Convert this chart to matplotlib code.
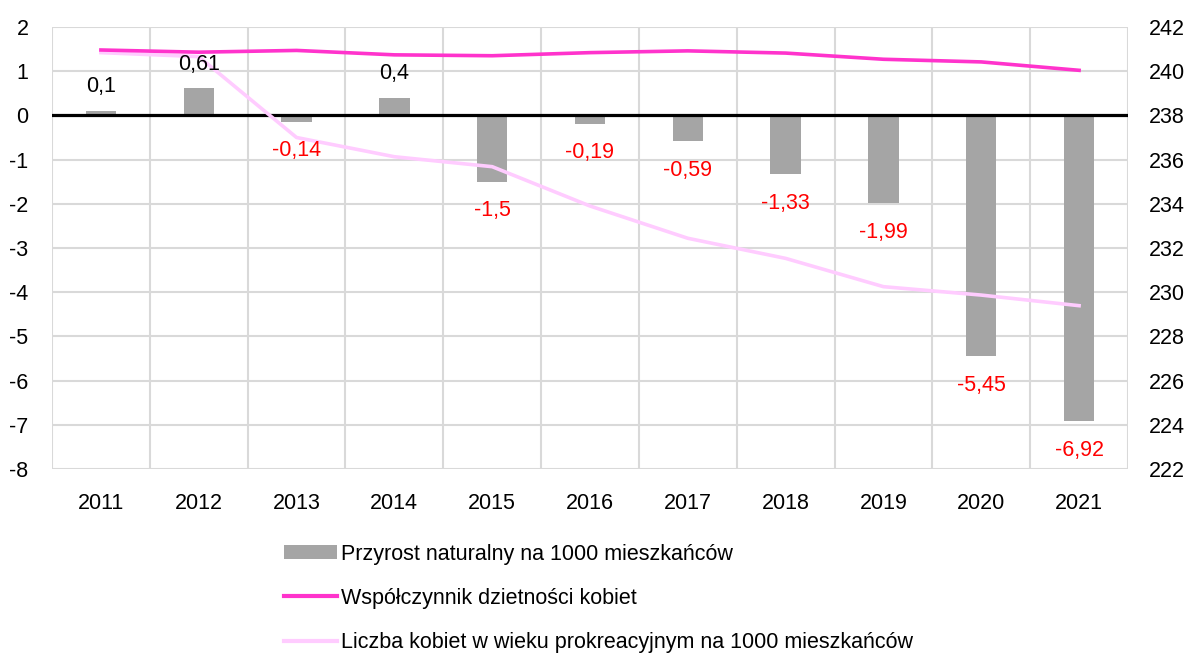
import numpy as np
import matplotlib
matplotlib.use("Agg")
import matplotlib.pyplot as plt
from matplotlib.patches import Patch
from matplotlib.lines import Line2D

plt.rcParams['font.family'] = ['Liberation Sans', 'DejaVu Sans']
plt.rcParams['axes.unicode_minus'] = False

years = ['2011', '2012', '2013', '2014', '2015', '2016', '2017', '2018', '2019', '2020', '2021']
przyrost = [0.1, 0.61, -0.14, 0.4, -1.5, -0.19, -0.59, -1.33, -1.99, -5.45, -6.92]
dzietnosc = [1.48, 1.43, 1.47, 1.37, 1.35, 1.42, 1.46, 1.41, 1.27, 1.21, 1.02]
kobiety = [240.84, 240.66, 237.0, 236.13, 235.68, 233.9, 232.44, 231.53, 230.25, 229.87, 229.39]

labels = ['Przyrost naturalny na 1000 mieszkańców',
          'Współczynnik dzietności kobiet',
          'Liczba kobiet w wieku prokreacyjnym na 1000 mieszkańców']

c_bar = '#a5a5a5'
c_mag = '#ff33cc'
c_pink = '#ffccff'
c_grid = '#d9d9d9'
fs = 15.5

fig = plt.figure(figsize=(11.88, 6.54), dpi=100)
ax1 = fig.add_axes([52/1188, 1 - 469/654, 1076/1188, 442/654])
ax2 = ax1.twinx()

x = np.arange(len(years))

# bars on left axis
ax1.bar(x, przyrost, width=0.31, color=c_bar, zorder=2)
ax1.axhline(0, color='black', lw=2.3, zorder=3)

ax1.set_ylim(-8, 2)
ax1.set_yticks(range(-8, 3))
ax1.set_xlim(-0.5, len(years) - 0.5)
ax1.set_xticks(x)
ax1.set_xticklabels(years)
ax1.set_xticks(np.arange(-0.5, len(years)), minor=True)
ax1.grid(axis='y', which='major', color=c_grid, lw=1.5, zorder=0)
ax1.grid(axis='x', which='minor', color=c_grid, lw=1.5, zorder=0)
ax1.set_axisbelow(True)
ax1.tick_params(axis='both', which='both', length=0, labelsize=fs)
ax1.tick_params(axis='y', pad=17)
ax1.tick_params(axis='x', pad=17)

# lines
ax2.plot(x, kobiety, color=c_pink, lw=2.6, zorder=3)
ax2.plot(x, dzietnosc, color=c_mag, lw=2.6, zorder=4, transform=ax1.transData)
ax2.set_ylim(222, 242)
ax2.set_yticks(range(222, 243, 2))
ax2.tick_params(axis='y', length=0, labelsize=fs, pad=15)

# data labels drawn on top of the lines
for xi, v in zip(x, przyrost):
    txt = f'{v:g}'.replace('.', ',')
    if v >= 0:
        ax2.annotate(txt, (xi, v), xycoords=ax1.transData, xytext=(0, 24),
                     textcoords='offset pixels', ha='center', va='center',
                     fontsize=fs, color='black', zorder=5)
    else:
        ax2.annotate(txt, (xi, v), xycoords=ax1.transData, xytext=(0, -29),
                     textcoords='offset pixels', ha='center', va='center',
                     fontsize=fs, color='#ff0000', zorder=5)

for a in (ax1, ax2):
    for s in a.spines.values():
        s.set_visible(False)

handles = [Patch(facecolor=c_bar, edgecolor='none'),
           Line2D([0], [0], color=c_mag, lw=3),
           Line2D([0], [0], color=c_pink, lw=3)]
fig.legend(handles, labels, loc='upper left', bbox_to_anchor=(275/1188, 1 - 535/654),
           frameon=False, fontsize=fs, handlelength=2.46, handleheight=0.68,
           handletextpad=0.2, labelspacing=1.08, borderaxespad=0)

fig.savefig('out.png', dpi=100)
